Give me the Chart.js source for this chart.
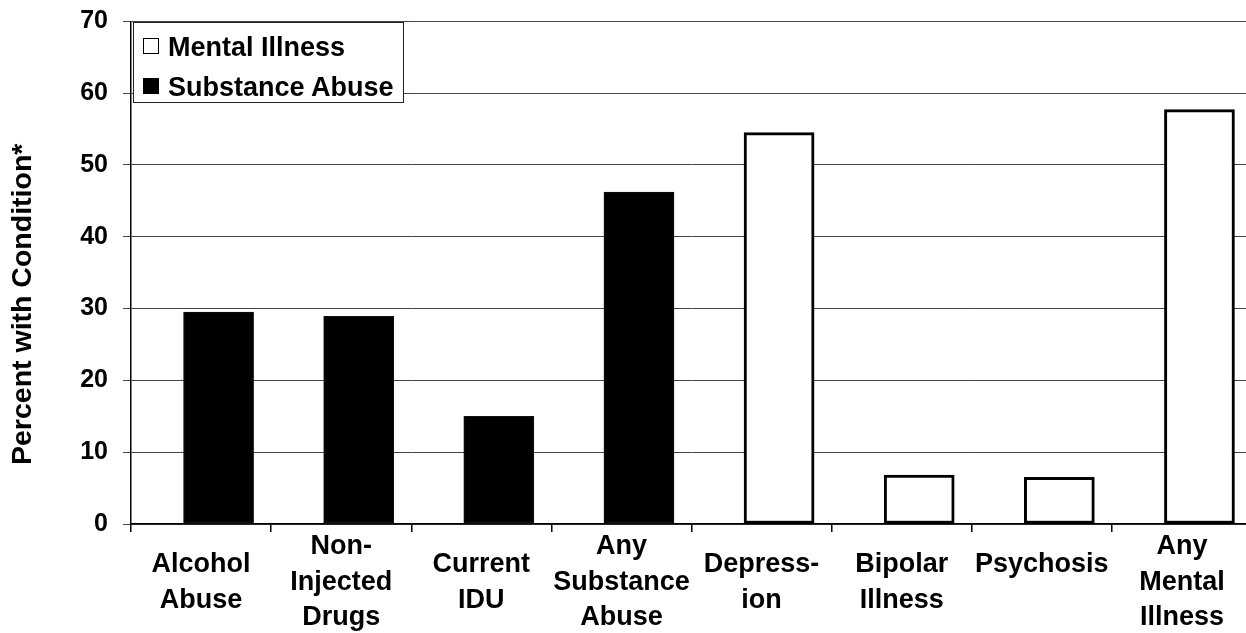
<!DOCTYPE html>
<html>
<head>
<meta charset="utf-8">
<script src="https://cdn.jsdelivr.net/npm/chart.js@4/dist/chart.umd.min.js"></script>
<style>
  html, body { margin: 0; padding: 0; background: #fff; overflow: hidden; }
  #wrap { position: relative; width: 1260px; height: 633px; }
  #legend {
    position: absolute; left: 133px; top: 22px; width: 269px; height: 79px;
    border: 1px solid #222; background: #fff;
    font-family: "Liberation Sans", Arial, sans-serif; font-weight: bold; font-size: 27px; color: #000;
  }
  .row { position: absolute; left: 0; height: 40px; line-height: 40px; white-space: nowrap; }
  .sw { position: absolute; left: 9px; top: 11px; width: 14px; height: 14px; border: 1px solid #000; }
  .lb { position: absolute; left: 34px; top: 0; }
</style>
</head>
<body>
<div id="wrap">
  <canvas id="chart" width="1260" height="633"></canvas>
  <div id="legend"></div>
</div>
<script>
// Categories (multi-line axis labels)
const categories = [
  ["Alcohol", "Abuse"],
  ["Non-", "Injected", "Drugs"],
  ["Current", "IDU"],
  ["Any", "Substance", "Abuse"],
  ["Depress-", "ion"],
  ["Bipolar", "Illness"],
  ["Psychosis", ""],
  ["Any", "Mental", "Illness"]
];

// Percent with each condition
const substanceAbuse = [29.5, 28.9, 15.0, 46.2, null, null, null, null];
const mentalIllness  = [null, null, null, null, 54.5, 6.8, 6.5, 57.7];

// Value axis
const yTicks = [0, 10, 20, 30, 40, 50, 60, 70];
const yTitle = "Percent with Condition*";

const seriesNames = ["Mental Illness", "Substance Abuse"];

const FONT = "'Liberation Sans', Arial, sans-serif";

// Empty placeholder group so the real bars sit in the second slot of each category
const spacer = categories.map(() => null);

const chart = new Chart(document.getElementById("chart"), {
  type: "bar",
  data: {
    labels: categories,
    datasets: [
      { label: "_spacer", data: spacer, stack: "pad", backgroundColor: "rgba(0,0,0,0)" },
      {
        label: seriesNames[1], data: substanceAbuse, stack: "main",
        backgroundColor: "#000", borderColor: "#111", borderWidth: 1, borderSkipped: false
      },
      {
        label: seriesNames[0], data: mentalIllness, stack: "main",
        backgroundColor: "#fff", borderColor: "#000", borderWidth: 3, borderSkipped: false
      }
    ]
  },
  options: {
    responsive: false,
    animation: false,
    categoryPercentage: 0.5,
    barPercentage: 2.0,
    layout: { padding: { top: 21, right: 8, bottom: 0, left: 0 } },
    plugins: {
      legend: { display: false },
      tooltip: { enabled: false }
    },
    scales: {
      x: {
        offset: true,
        grid: {
          offset: true, drawOnChartArea: false, drawTicks: true,
          tickLength: 8, color: "#000", lineWidth: 1.5
        },
        border: { display: true, color: "#000", width: 1.5 },
        ticks: {
          color: "#000", padding: 15, maxRotation: 0, autoSkip: false,
          crossAlign: "center",
          font: { family: FONT, size: 27, weight: "bold", lineHeight: 1.315 }
        },
        afterFit: (s) => { s.height = 109; }
      },
      y: {
        stacked: false,
        min: 0, max: 70,
        afterBuildTicks: (s) => { s.ticks = yTicks.map(v => ({ value: v })); },
        grid: { color: "#444", lineWidth: 1, tickLength: 8, drawTicks: true },
        border: { display: true, color: "#000", width: 1.5 },
        ticks: {
          color: "#000", padding: 15,
          font: { family: FONT, size: 25, weight: "bold", lineHeight: 0.5 }
        },
        title: {
          display: true,
          text: yTitle + "\u00a0".repeat(8),
          color: "#000",
          padding: { top: 6, bottom: 0 },
          font: { family: FONT, size: 28.5, weight: "bold", lineHeight: 1.2 }
        },
        afterFit: (s) => { s.width = 131; }
      }
    }
  }
});

// Boxed legend in the upper-left of the plot
const legend = document.getElementById("legend");
const swatchFill = { "Mental Illness": "#fff", "Substance Abuse": "#000" };
seriesNames.forEach((name, i) => {
  const row = document.createElement("div");
  row.className = "row";
  row.style.top = (4 + i * 40) + "px";
  const sw = document.createElement("span");
  sw.className = "sw";
  sw.style.background = swatchFill[name];
  const lb = document.createElement("span");
  lb.className = "lb";
  lb.textContent = name;
  row.appendChild(sw);
  row.appendChild(lb);
  legend.appendChild(row);
});
</script>
</body>
</html>
